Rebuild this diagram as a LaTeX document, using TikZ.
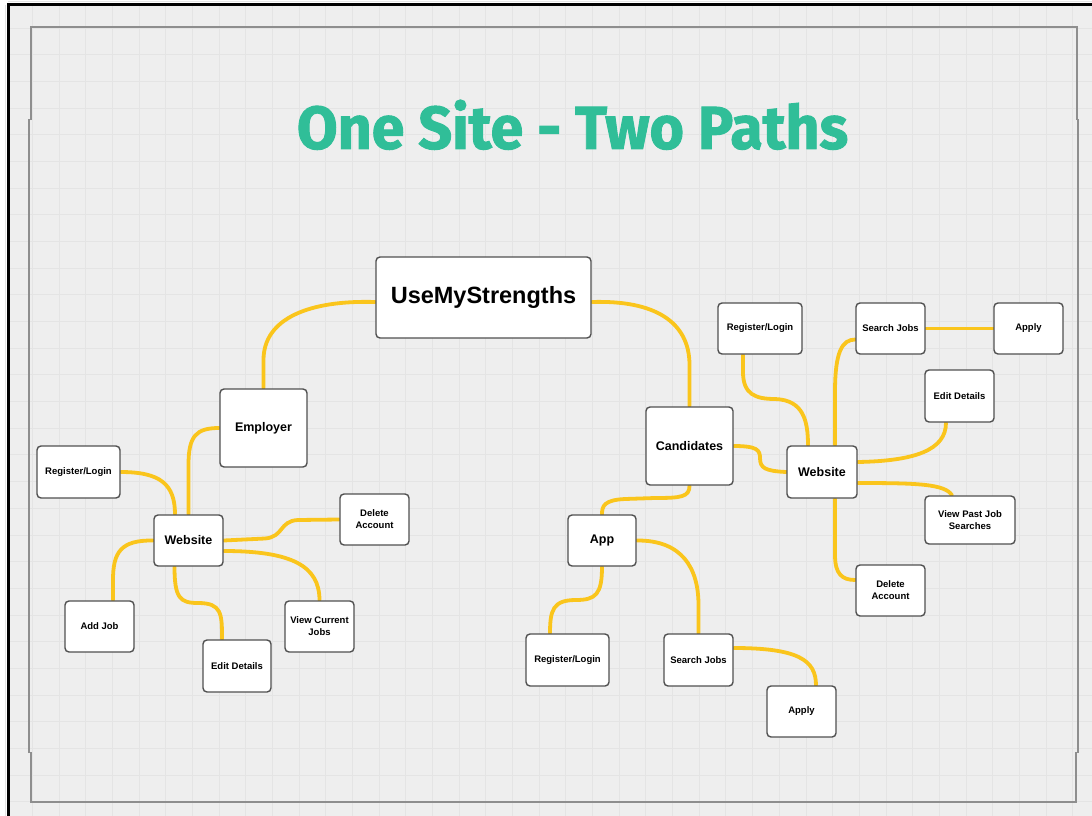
\documentclass[tikz,border=0pt]{standalone}
\usepackage{fontspec}
\setmainfont{Liberation Sans}
\newfontfamily\titlefont[FakeBold=1.6]{Fira Sans}
\usetikzlibrary{calc}
\definecolor{bgc}{HTML}{EEEEEE}
\definecolor{gridc}{HTML}{E4E4E4}
\definecolor{framec}{HTML}{8E8E8E}
\definecolor{boxc}{HTML}{505050}
\definecolor{linkc}{RGB}{250,197,28}
\definecolor{titlec}{RGB}{48,190,152}
\pgfdeclarelayer{back}
\pgfdeclarelayer{mid}
\pgfsetlayers{back,mid,main}
\tikzset{
  box/.style={draw=boxc, fill=white, line width=1.4pt, rounded corners=4pt,
    inner sep=0pt, align=center, font=\bfseries\fontsize{9.5}{12}\selectfont},
  bigbox/.style={box, font=\bfseries\fontsize{12.5}{15}\selectfont},
  link/.style={draw=linkc, line width=3.8pt, line cap=round},
}
\begin{document}
\begin{tikzpicture}[x=1pt,y=-1pt]
\useasboundingbox (0,0) rectangle (1092,816);
\begin{pgfonlayer}{back}
\fill[white] (0,0) rectangle (1092,816);
\fill[bgc] (8,5) rectangle (1092,816);
\foreach \i in {0,...,40} {
  \draw[gridc, line width=1pt] (5.9+26.67*\i,5) -- (5.9+26.67*\i,816);
}
\foreach \i in {0,...,30} {
  \draw[gridc, line width=1pt] (8,1.6+26.67*\i) -- (1092,1.6+26.67*\i);
}
\draw[black, line width=3pt] (8,816) -- (8,5) -- (1092,5);
\draw[framec, line width=2pt] (31,120) -- (31,27) -- (1077,27) -- (1077,120);
\draw[framec, line width=2pt] (1078,119) -- (1078,753);
\draw[framec, line width=2pt] (1076,752) -- (1076,802) -- (31,802) -- (31,752);
\draw[framec, line width=2pt] (29,753) -- (29,119);
\end{pgfonlayer}

\node[anchor=south, inner sep=0pt, text=titlec] (title) at (572.5,150)
  {\resizebox{551pt}{49pt}{\titlefont\bfseries One Site - Two Paths}};

% central
\node[box, minimum width=215pt, minimum height=81pt, font=\bfseries\fontsize{23.5}{28}\selectfont] (ums) at (483.5,297.5) {UseMyStrengths};

% employer side
\node[bigbox, minimum width=87pt, minimum height=78pt] (emp) at (263.5,428) {Employer};
\node[bigbox, minimum width=69pt, minimum height=51pt] (webL) at (188.5,540.5) {Website};
\node[box, minimum width=83pt, minimum height=52pt] (regL) at (78.5,472) {Register/Login};
\node[box, minimum width=69pt, minimum height=51pt] (delL) at (374.5,519.5) {Delete\\Account};
\node[box, minimum width=69pt, minimum height=51pt] (addJ) at (99.5,626.5) {Add Job};
\node[box, minimum width=68pt, minimum height=52pt] (editL) at (237,666) {Edit Details};
\node[box, minimum width=69pt, minimum height=51pt] (viewC) at (319.5,626.5) {View Current\\Jobs};

% candidate side
\node[bigbox, minimum width=87pt, minimum height=78pt] (cand) at (689.5,446) {Candidates};
\node[bigbox, minimum width=68pt, minimum height=51pt] (app) at (602,540.5) {App};
\node[box, minimum width=83pt, minimum height=52pt] (regB) at (567.5,660) {Register/Login};
\node[box, minimum width=69pt, minimum height=52pt] (srchB) at (698.5,660) {Search Jobs};
\node[box, minimum width=69pt, minimum height=51pt] (applyB) at (801.5,711.5) {Apply};
\node[bigbox, minimum width=70pt, minimum height=52pt] (webR) at (822,472) {Website};
\node[box, minimum width=84pt, minimum height=51pt] (regR) at (760,328.5) {Register/Login};
\node[box, minimum width=69pt, minimum height=51pt] (srchR) at (890.5,328.5) {Search Jobs};
\node[box, minimum width=69pt, minimum height=51pt] (applyR) at (1028.5,328.5) {Apply};
\node[box, minimum width=69pt, minimum height=52pt] (editR) at (959.5,396) {Edit Details};
\node[box, minimum width=90pt, minimum height=48pt] (viewP) at (970,520) {View Past Job\\Searches};
\node[box, minimum width=69pt, minimum height=51pt] (delR) at (890.5,590.5) {Delete\\Account};

\begin{pgfonlayer}{mid}
% employer side links
\draw[link] ([yshift=-4.5pt]ums.west) .. controls (310,300) and (263.5,318) .. (263.5,360) -- (emp.north);
\draw[link] (emp.west) .. controls (196,428) and (188.5,436) .. (188.5,465) -- (webL.north);
\draw[link] (regL.east) .. controls (160,472) and (175,484) .. ([xshift=-13.5pt]webL.north);
\draw[link] (webL.east) -- (265,538.5) .. controls (284,537) and (279,521) .. (298,520) -- (delL.west);
\draw[link] ([yshift=-10.5pt]webL.east) .. controls (292,551) and (319.5,566) .. (viewC.north);
\draw[link] (webL.west) .. controls (121,540) and (113,552) .. (113,580) -- ([xshift=13.5pt]addJ.north);
\draw[link] ([xshift=-14pt]webL.south) .. controls (174.5,598) and (180,603) .. (198,603)
  .. controls (222,603) and (222,614) .. ([xshift=-15pt]editL.north);
% candidate side links
\draw[link] ([yshift=-4.5pt]ums.east) .. controls (655,300) and (689.5,322) .. (689.5,365) -- (cand.north);
\draw[link] (cand.south) .. controls (689.5,497) and (681,498) .. (655,498) -- (625,499)
  .. controls (604,500) and (602,506) .. (app.north);
\draw[link] (cand.east) .. controls (757,446) and (760,450) .. (760,458)
  .. controls (760,468) and (765,471) .. (webR.west);
\draw[link] (app.south) .. controls (602,594) and (596,600) .. (576,600)
  .. controls (553,600) and (550,610) .. ([xshift=-17.5pt]regB.north);
\draw[link] (app.east) .. controls (682,540) and (698.5,568) .. (698.5,605) -- (srchB.north);
\draw[link] ([yshift=12pt]srchB.east) .. controls (798,648) and (816,660) .. ([xshift=14.5pt]applyB.north);
\draw[link] ([xshift=-17pt]regR.south) -- (743,372) .. controls (743,394) and (755,399) .. (775,399)
  .. controls (803,400) and (808,420) .. ([xshift=-14pt]webR.north);
\draw[link] ([xshift=13pt]webR.north) -- (835,392) .. controls (835,352) and (842,339.5) .. ([yshift=-11pt]srchR.west);
\draw[link] (srchR.east) -- (applyR.west);
\draw[link] ([yshift=10pt]webR.east) .. controls (915,461) and (946,450) .. ([xshift=-13.5pt]editR.south);
\draw[link] ([yshift=-11pt]webR.east) .. controls (918,483) and (945,484) .. ([xshift=-18pt]viewP.north);
\draw[link] ([xshift=13pt]webR.south) -- (835,555) .. controls (835,574) and (842,580) .. ([yshift=10.5pt]delR.west);
\end{pgfonlayer}
\end{tikzpicture}
\end{document}
